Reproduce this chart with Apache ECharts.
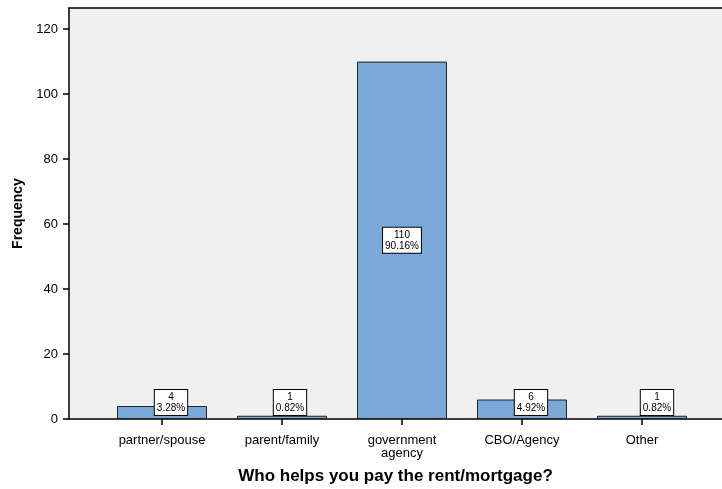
<!DOCTYPE html>
<html>
<head>
<meta charset="utf-8">
<script src="https://cdn.jsdelivr.net/npm/echarts@6/dist/echarts.min.js"></script>
<style>
  html, body { margin: 0; padding: 0; background: #fff; }
  #chart { width: 722px; height: 489px; }
</style>
</head>
<body>
<div id="chart"></div>
<script>
// Who helps pay the rent/mortgage — frequency counts and percentages
const categories = ['partner/spouse', 'parent/family', 'government\nagency', 'CBO/Agency', 'Other'];
const frequencies = [4, 1, 110, 6, 1];
const percents = ['3.28%', '0.82%', '90.16%', '4.92%', '0.82%'];
const yTicks = [0, 20, 40, 60, 80, 100, 120];

const FONT = '"Liberation Sans", Arial, sans-serif';
const categoryIndex = categories.map((_, i) => i);

// Small bars get their label box lifted to sit above the axis, nudged right
const smallLabelShift = [9, 8, 0, 9, 15];

const barData = frequencies.map((v, i) => {
  const item = { value: [i, v] };
  if (v < 20) {
    item.label = {
      position: 'insideBottom',
      distance: 4,
      offset: [smallLabelShift[i], 0]
    };
  }
  return item;
});

const chart = echarts.init(document.getElementById('chart'), null, { renderer: 'canvas' });
chart.setOption({
  animation: false,
  backgroundColor: '#ffffff',
  textStyle: { fontFamily: FONT },
  grid: {
    left: 69,
    top: 8,
    right: 0,
    bottom: 70,
    outerBoundsMode: 'none',
    containLabel: false,
    show: true,
    backgroundColor: '#f0f0f0',
    borderWidth: 0
  },
  xAxis: [{
    type: 'value',
    min: -0.775,
    max: 4.667,
    name: 'Who helps you pay the rent/mortgage?',
    nameLocation: 'middle',
    nameGap: 49,
    nameTextStyle: { fontFamily: FONT, fontSize: 17, fontWeight: 'bold', color: '#000' },
    axisLine: { show: true, onZero: false, lineStyle: { color: '#000', width: 1.5 } },
    axisTick: { show: true, customValues: categoryIndex, length: 6, lineStyle: { color: '#000', width: 1.5 } },
    axisLabel: {
      customValues: categoryIndex,
      formatter: v => categories[v],
      fontFamily: FONT,
      fontSize: 13,
      lineHeight: 13,
      color: '#000',
      margin: 15
    },
    splitLine: { show: false }
  }, {
    // top frame line of the plot area
    type: 'value',
    position: 'top',
    min: -0.775,
    max: 4.667,
    axisLine: { show: true, onZero: false, lineStyle: { color: '#000', width: 1.5 } },
    axisTick: { show: false },
    axisLabel: { show: false },
    splitLine: { show: false }
  }],
  yAxis: {
    type: 'value',
    min: 0,
    max: 126.5,
    name: 'Frequency',
    nameLocation: 'middle',
    nameGap: 44,
    nameTextStyle: { fontFamily: FONT, fontSize: 14, fontWeight: 'bold', color: '#000' },
    axisLine: { show: true, onZero: false, lineStyle: { color: '#000', width: 1.5 } },
    axisTick: { show: true, customValues: yTicks, length: 6, lineStyle: { color: '#000', width: 1.5 } },
    axisLabel: {
      customValues: yTicks,
      fontFamily: FONT,
      fontSize: 13,
      color: '#000',
      margin: 11
    },
    splitLine: { show: false }
  },
  series: [{
    type: 'bar',
    xAxisIndex: 0,
    data: barData,
    barWidth: 90,
    itemStyle: { color: '#7ba9d7', borderColor: '#222', borderWidth: 1 },
    label: {
      show: true,
      position: 'inside',
      formatter: p => frequencies[p.dataIndex] + '\n' + percents[p.dataIndex],
      fontFamily: FONT,
      fontSize: 10,
      lineHeight: 11,
      color: '#000',
      backgroundColor: '#ffffff',
      borderColor: '#000',
      borderWidth: 1,
      padding: [2, 2, 1, 2],
      align: 'center'
    }
  }]
});
</script>
</body>
</html>
